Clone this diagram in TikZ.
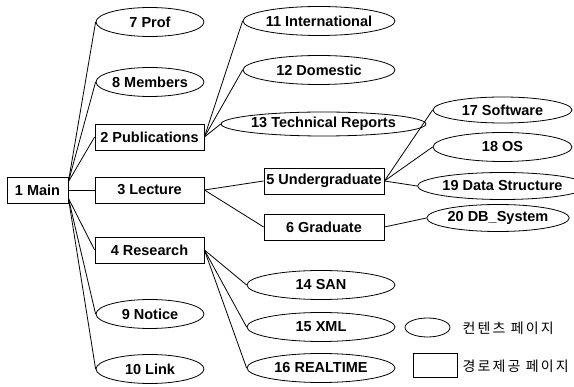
\documentclass[tikz,border=0pt]{standalone}
\usepackage{fontspec}
\setmainfont{Liberation Sans}
\newfontfamily\kor[LetterSpace=15]{Noto Sans CJK KR}
\usetikzlibrary{shapes.geometric}

\begin{document}
\begin{tikzpicture}[x=1pt, y=-1pt, line width=0.8pt,
    font=\fontsize{14.5}{17}\selectfont\bfseries,
    content/.style={draw, ellipse, inner sep=0pt, minimum width=#1, minimum height=29},
    content/.default=108,
    route/.style={draw, rectangle, inner sep=0pt, minimum width=109, minimum height=26}]
  \useasboundingbox (0,0) rectangle (574,387);

  % Startseite
  \node[route, minimum width=61] (main) at (37.5,190) {1 Main};

  % erste Ebene
  \node[content] (prof) at (150,22) {7 Prof};
  \node[content] (members) at (150,82) {8 Members};
  \node[route] (pub) at (149.5,137) {2 Publications};
  \node[route] (lec) at (149.5,190) {3 Lecture};
  \node[route] (res) at (149.5,250) {4 Research};
  \node[content] (notice) at (150,314) {9 Notice};
  \node[content] (link) at (150,369) {10 Link};

  % Publications
  \node[content=152] (intl) at (319,21) {11 International};
  \node[content=152] (dom) at (319,70) {12 Domestic};
  \node[content=159, minimum height=24] (tech) at (323.5,124) {13 Technical Reports};

  % Lecture
  \node[route, minimum width=120] (under) at (324,181) {5 Undergraduate};
  \node[route, minimum width=120] (grad) at (324,227) {6 Graduate};
  \node[content=139, minimum height=26] (soft) at (502.5,110) {17 Software};
  \node[content=139] (os) at (502.5,147) {18 OS};
  \node[content=139, minimum height=27] (ds) at (502.5,186) {19 Data Structure};
  \node[content=130, minimum height=27] (db) at (498,218) {20 DB\_System};

  % Research
  \node[content=148] (san) at (321,285) {14 SAN};
  \node[content=148] (xml) at (321,327) {15 XML};
  \node[content=148] (rt) at (321,368) {16 REALTIME};

  % Verbindungen
  \draw (main.15) -- (prof.west);
  \draw (main.15) -- (members.west);
  \draw (main.15) -- (pub.west);
  \draw (main.east) -- (lec.west);
  \draw (main.-15) -- (res.west);
  \draw (main.-15) -- (notice.west);
  \draw (main.-15) -- (link.west);
  \draw (pub.east) -- (intl.west);
  \draw (pub.east) -- (dom.west);
  \draw (pub.east) -- (tech.west);
  \draw (lec.east) -- (under.west);
  \draw (lec.east) -- (grad.west);
  \draw (under.east) -- (soft.west);
  \draw (under.east) -- (os.west);
  \draw (under.east) -- (ds.west);
  \draw (grad.east) -- (db.west);
  \draw (res.east) -- (san.west);
  \draw (res.east) -- (xml.west);
  \draw (res.east) -- (rt.west);

  % Legende
  \node[content=45, minimum height=19] (lgcontent) at (427.5,327.5) {};
  \node[route, minimum width=44, minimum height=24] (lgroute) at (435,365) {};
  \node[anchor=west, font=\kor\fontsize{14}{17}\selectfont] (lgcontenttext) at (459,328) {컨텐츠 페이지};
  \node[anchor=west, font=\kor\fontsize{14}{17}\selectfont] (lgroutetext) at (459,366) {경로제공 페이지};
\end{tikzpicture}
\end{document}
